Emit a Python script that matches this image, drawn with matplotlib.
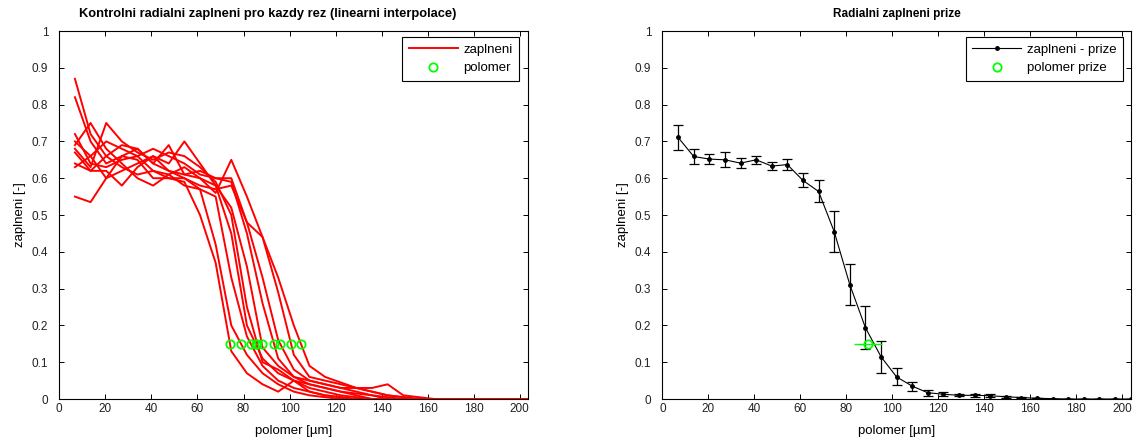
import numpy as np
import matplotlib
matplotlib.use('Agg')
from matplotlib import pyplot as plt
from matplotlib.ticker import FormatStrFormatter

plt.rcParams['font.family'] = ['Liberation Sans', 'DejaVu Sans']
plt.rcParams['font.size'] = 8

# radial positions [um]
polomer = [6.79, 13.58, 20.37, 27.16, 33.95, 40.74, 47.53, 54.32, 61.11, 67.90,
           74.69, 81.48, 88.27, 95.06, 101.85, 108.64, 115.43, 122.22, 129.01, 135.80,
           142.59, 149.38, 156.17, 162.96, 169.75, 176.54, 183.33, 190.12, 196.91, 203.70]

# fill profile for each slice
rez_1 = [0.87, 0.72, 0.66, 0.63, 0.61, 0.62, 0.60, 0.59, 0.50, 0.37, 0.13, 0.07, 0.04, 0.02, 0.05,
         0.02, 0.01, 0.005, 0, 0, 0, 0, 0, 0, 0, 0, 0, 0, 0, 0]
rez_2 = [0.82, 0.70, 0.64, 0.66, 0.68, 0.64, 0.62, 0.60, 0.57, 0.42, 0.20, 0.12, 0.07, 0.04, 0.02,
         0.01, 0.005, 0, 0, 0, 0, 0, 0, 0, 0, 0, 0, 0, 0, 0]
rez_3 = [0.72, 0.64, 0.63, 0.65, 0.66, 0.62, 0.61, 0.58, 0.57, 0.55, 0.33, 0.17, 0.09, 0.05, 0.03,
         0.02, 0.01, 0.005, 0, 0, 0, 0, 0, 0, 0, 0, 0, 0, 0, 0]
rez_4 = [0.69, 0.75, 0.68, 0.64, 0.60, 0.58, 0.61, 0.63, 0.60, 0.58, 0.45, 0.20, 0.11, 0.07, 0.05,
         0.03, 0.02, 0.01, 0.005, 0, 0, 0, 0, 0, 0, 0, 0, 0, 0, 0]
rez_5 = [0.68, 0.63, 0.75, 0.70, 0.67, 0.65, 0.67, 0.66, 0.63, 0.59, 0.50, 0.25, 0.10, 0.08, 0.05,
         0.04, 0.03, 0.02, 0.01, 0, 0, 0, 0, 0, 0, 0, 0, 0, 0, 0]
rez_6 = [0.67, 0.62, 0.62, 0.58, 0.63, 0.66, 0.64, 0.70, 0.64, 0.58, 0.52, 0.36, 0.14, 0.09, 0.06,
         0.05, 0.04, 0.03, 0.02, 0.01, 0, 0, 0, 0, 0, 0, 0, 0, 0, 0]
rez_7 = [0.63, 0.66, 0.70, 0.68, 0.66, 0.68, 0.66, 0.64, 0.61, 0.60, 0.59, 0.45, 0.26, 0.11, 0.06,
         0.04, 0.03, 0.02, 0.015, 0.01, 0.005, 0, 0, 0, 0, 0, 0, 0, 0, 0]
rez_8 = [0.55, 0.535, 0.60, 0.66, 0.65, 0.60, 0.60, 0.60, 0.58, 0.57, 0.58, 0.48, 0.33, 0.16, 0.08,
         0.05, 0.04, 0.03, 0.03, 0.02, 0.01, 0.005, 0, 0, 0, 0, 0, 0, 0, 0]
rez_9 = [0.70, 0.66, 0.60, 0.62, 0.64, 0.66, 0.62, 0.61, 0.62, 0.60, 0.60, 0.48, 0.44, 0.29, 0.12,
         0.06, 0.05, 0.04, 0.03, 0.02, 0.01, 0.005, 0, 0, 0, 0, 0, 0, 0, 0]
rez_10 = [0.64, 0.62, 0.66, 0.69, 0.68, 0.64, 0.69, 0.61, 0.60, 0.56, 0.65, 0.55, 0.44, 0.33, 0.20,
          0.09, 0.06, 0.045, 0.03, 0.03, 0.04, 0.01, 0.005, 0, 0, 0, 0, 0, 0, 0]
rezy = [rez_1, rez_2, rez_3, rez_4, rez_5, rez_6, rez_7, rez_8, rez_9, rez_10]

# averaged profile with its spread
zaplneni_prize = [0.711, 0.659, 0.652, 0.650, 0.641, 0.650, 0.633, 0.637, 0.594, 0.564,
                  0.455, 0.311, 0.194, 0.115, 0.060, 0.035, 0.017, 0.013, 0.010, 0.010,
                  0.009, 0.006, 0.004, 0.002, 0.001, 0, 0, 0, 0, 0]
chyba_prize = [0.033, 0.021, 0.013, 0.020, 0.013, 0.011, 0.012, 0.014, 0.019, 0.030,
               0.055, 0.056, 0.058, 0.043, 0.023, 0.012, 0.008, 0.005, 0.003, 0.004,
               0.004, 0.002, 0.001, 0, 0, 0, 0, 0, 0, 0]

hladina = 0.15
polomer_prize = 89.4
polomer_prize_chyba = 5.9


def pruchod(x, y, level):
    # first downward crossing of the level, linear interpolation
    for k in range(1, len(y)):
        if y[k - 1] >= level > y[k]:
            return x[k - 1] + (y[k - 1] - level) / (y[k - 1] - y[k]) * (x[k] - x[k - 1])
    return np.nan


def styl(ax):
    ax.set_xlim(0, 203.7)
    ax.set_ylim(0, 1)
    ax.set_xticks(np.arange(0, 201, 20))
    ax.set_yticks(np.arange(0, 1.01, 0.1))
    ax.yaxis.set_major_formatter(FormatStrFormatter('%g'))
    ax.tick_params(direction='in', top=True, right=True, length=3.5, width=0.7,
                   labelsize=8.5, labelcolor='#222222')
    ax.tick_params(axis='y', pad=8)
    ax.tick_params(axis='x', pad=3)
    for s in ax.spines.values():
        s.set_linewidth(0.8)
    ax.set_xlabel('polomer [µm]', fontsize=9.5, labelpad=7)
    ax.set_ylabel('zaplneni [-]', fontsize=9.5, labelpad=4)


def legenda(ax, x0):
    leg = ax.legend(loc='upper right', bbox_to_anchor=(x0, 0.983), borderaxespad=0,
                    fancybox=False, edgecolor='black', framealpha=1, fontsize=9.5,
                    handlelength=3.7, handletextpad=0.4, borderpad=0.5,
                    labelspacing=0.45)
    leg.get_frame().set_linewidth(0.8)


fig = plt.figure(figsize=(11.34, 4.43), dpi=100)
ax1 = fig.add_axes([0.0523, 0.0993, 0.4136, 0.8307])
ax2 = fig.add_axes([0.5842, 0.0993, 0.4129, 0.8307])

# left: every slice
for i, r in enumerate(rezy):
    ax1.plot(polomer, r, color='red', lw=1.4, label='zaplneni' if i == 0 else None)
pruchody = [pruchod(polomer, r, hladina) for r in rezy]
ax1.plot(pruchody, [hladina] * len(pruchody), 'o', color='#00ff00', mfc='none',
         ms=6, mew=1.3, label='polomer')
styl(ax1)
ax1.set_title('Kontrolni radialni zaplneni pro kazdy rez (linearni interpolace)',
              fontsize=9.3, fontweight='bold', x=0.445, pad=10)
legenda(ax1, 0.98)

# right: averaged profile
ax2.errorbar(polomer, zaplneni_prize, yerr=chyba_prize, fmt='none', ecolor='black',
             elinewidth=0.9, capsize=3.6, capthick=0.9)
ax2.plot(polomer, zaplneni_prize, '.-', color='black', lw=0.8, ms=5,
         label='zaplneni - prize')
ax2.errorbar(polomer_prize, hladina, xerr=polomer_prize_chyba, fmt='o', color='#00ff00',
             mfc='none', ms=6, mew=1.3, elinewidth=1, capsize=0)
ax2.plot([], [], 'o', color='#00ff00', mfc='none', ms=6, mew=1.3, label='polomer prize')
styl(ax2)
ax2.set_title('Radialni zaplneni prize', fontsize=8.5, fontweight='bold', pad=10)
legenda(ax2, 0.983)

fig.savefig('out.png', dpi=100)
